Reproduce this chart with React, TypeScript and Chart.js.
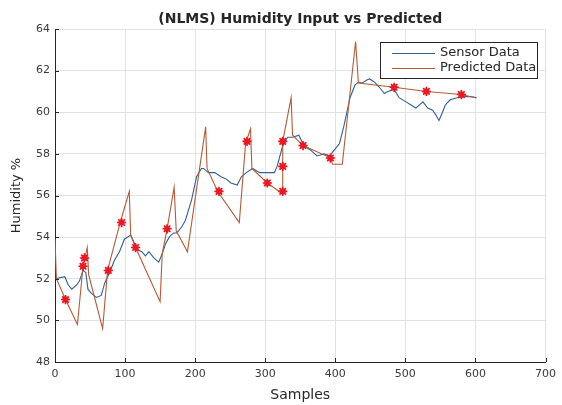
import React, { useEffect, useRef } from "react";
import { Chart, registerables } from "chart.js";

Chart.register(...registerables);

// ---- Data ----
const sensorSamples = [0, 14, 19, 24, 31, 35, 40, 44, 47, 52, 59, 66, 71, 78, 85, 92, 99, 108, 112, 117, 124, 129, 134, 141, 148, 153, 158, 163, 169, 174, 181, 186, 195, 202, 209, 212, 219, 228, 237, 244, 251, 260, 266, 273, 282, 292, 303, 313, 317, 325, 332, 339, 348, 355, 364, 374, 384, 392, 399, 406, 412, 421, 428, 433, 438, 445, 449, 456, 463, 470, 475, 484, 491, 501, 508, 515, 525, 532, 539, 543, 548, 553, 557, 564, 574, 586, 594, 602];
const sensorValues = [52.0, 52.1, 51.7, 51.5, 51.7, 51.9, 52.4, 52.3, 51.5, 51.3, 51.1, 51.2, 51.8, 52.3, 52.9, 53.3, 53.9, 54.1, 53.8, 53.4, 53.3, 53.1, 53.3, 53.0, 52.8, 53.2, 53.7, 54.0, 54.2, 54.2, 54.5, 54.8, 55.8, 56.9, 57.3, 57.3, 57.1, 57.1, 56.9, 56.8, 56.6, 56.5, 56.9, 57.1, 57.3, 57.1, 57.1, 57.1, 57.4, 58.4, 58.8, 58.8, 58.9, 58.4, 58.2, 57.9, 58.0, 57.9, 58.2, 58.5, 59.3, 60.7, 61.3, 61.45, 61.4, 61.55, 61.6, 61.45, 61.2, 60.9, 61.0, 61.1, 60.7, 60.5, 60.35, 60.2, 60.5, 60.2, 60.1, 59.9, 59.6, 60.0, 60.35, 60.6, 60.7, 60.75, 60.75, 60.7];

const predictedSamples = [0, 2, 15, 32, 40, 46, 48, 68, 75, 93, 106, 108, 115, 150, 153, 160, 170, 173, 189, 215, 217, 232, 263, 272, 279, 281, 303, 324, 325, 337, 339, 354, 394, 396, 410, 429, 433, 484, 530, 580, 600];
const predictedValues = [53.9, 52.0, 51.0, 49.8, 52.6, 53.5, 52.2, 49.6, 52.4, 54.7, 56.2, 54.1, 53.5, 50.9, 53.2, 54.4, 56.4, 54.3, 53.3, 59.3, 57.3, 56.2, 54.7, 58.5, 59.2, 57.3, 56.6, 56.1, 58.6, 60.7, 58.9, 58.4, 57.8, 57.5, 57.5, 63.4, 61.4, 61.2, 61.0, 60.85, 60.7];

const markerSamples = [15, 40, 42, 76, 95, 115, 160, 234, 274, 303, 325, 325, 325, 354, 393, 484, 530, 580];
const markerValues = [51.0, 52.6, 53.0, 52.4, 54.7, 53.5, 54.4, 56.2, 58.6, 56.6, 56.2, 57.4, 58.6, 58.4, 57.8, 61.2, 61.0, 60.85];

const seriesLabels = ["Sensor Data", "Predicted Data"];
const chartTitle = "(NLMS) Humidity Input vs Predicted";
const xAxisTitle = "Samples";
const yAxisTitle = "Humidity %";
const xMin = 0, xMax = 700, xStep = 100;
const yMin = 48, yMax = 64, yStep = 2;

const SENSOR_COLOR = "#2f6194";
const PREDICTED_COLOR = "#b65a36";
const AXIS_COLOR = "#262626";
const GRID_COLOR = "#e2e2e2";
const FONT = "'DejaVu Sans', sans-serif";

const toPoints = (xs: number[], ys: number[]) => xs.map((x, i) => ({ x, y: ys[i] }));

const matlabPlugin = {
  id: "matlabFrame",
  afterDraw(chart: any) {
    const { ctx, chartArea, scales } = chart;
    const xs = scales.x;
    const ys = scales.y;
    ctx.save();
    // inward tick marks
    ctx.strokeStyle = AXIS_COLOR;
    ctx.lineWidth = 1;
    ctx.beginPath();
    xs.ticks.forEach((t: any) => {
      const px = Math.round(xs.getPixelForValue(t.value)) + 0.5;
      ctx.moveTo(px, chartArea.bottom);
      ctx.lineTo(px, chartArea.bottom - 4);
    });
    ys.ticks.forEach((t: any) => {
      const py = Math.round(ys.getPixelForValue(t.value)) + 0.5;
      ctx.moveTo(chartArea.left, py);
      ctx.lineTo(chartArea.left + 4, py);
    });
    ctx.stroke();

    // legend box (top-right, inside the axes)
    const bx = 380.5, by = 42.5, bw = 157, bh = 36;
    ctx.fillStyle = "#ffffff";
    ctx.fillRect(bx, by, bw, bh);
    ctx.strokeStyle = AXIS_COLOR;
    ctx.lineWidth = 1;
    ctx.strokeRect(bx, by, bw, bh);
    const ds = chart.data.datasets;
    const rows = [
      { label: ds[0].label, color: ds[0].borderColor, y: 53 },
      { label: ds[1].label, color: ds[1].borderColor, y: 68 },
    ];
    ctx.font = `13px ${FONT}`;
    ctx.textBaseline = "middle";
    ctx.textAlign = "left";
    rows.forEach((r) => {
      ctx.strokeStyle = r.color;
      ctx.lineWidth = 1;
      ctx.beginPath();
      ctx.moveTo(392, r.y + 0.5);
      ctx.lineTo(435, r.y + 0.5);
      ctx.stroke();
      ctx.fillStyle = AXIS_COLOR;
      ctx.fillText(r.label, 440, r.y);
    });
    ctx.restore();
  },
};

export default function App() {
  const ref = useRef<HTMLCanvasElement | null>(null);

  useEffect(() => {
    document.body.style.margin = "0";
    const canvas = ref.current;
    if (!canvas) return;
    const chart = new Chart(canvas, {
      type: "line",
      data: {
        datasets: [
          {
            label: seriesLabels[0],
            data: toPoints(sensorSamples, sensorValues),
            borderColor: SENSOR_COLOR,
            backgroundColor: SENSOR_COLOR,
            borderWidth: 1.1,
            pointRadius: 0,
            tension: 0,
            order: 2,
          },
          {
            label: seriesLabels[1],
            data: toPoints(predictedSamples, predictedValues),
            borderColor: PREDICTED_COLOR,
            backgroundColor: PREDICTED_COLOR,
            borderWidth: 1.1,
            pointRadius: 0,
            tension: 0,
            order: 1,
          },
          {
            label: "markerFill",
            data: toPoints(markerSamples, markerValues),
            showLine: false,
            pointStyle: "circle",
            pointRadius: 3.2,
            backgroundColor: "rgba(235,25,35,0.8)",
            borderWidth: 0,
            order: 0,
          },
          {
            label: "markerStar",
            data: toPoints(markerSamples, markerValues),
            showLine: false,
            pointStyle: "star",
            pointRadius: 4.6,
            borderColor: "#e8121f",
            backgroundColor: "#e8121f",
            borderWidth: 1.6,
            order: 0,
          },
        ],
      },
      options: {
        responsive: false,
        animation: false,
        events: [],
        layout: { padding: { left: 0, right: 11, top: 0, bottom: 0 } },
        plugins: {
          legend: { display: false },
          tooltip: { enabled: false },
          title: {
            display: true,
            text: chartTitle,
            fullSize: false,
            color: AXIS_COLOR,
            font: { family: FONT, size: 14, weight: "bold" },
            padding: { top: 11, bottom: 1.2 },
          },
        },
        scales: {
          x: {
            type: "linear",
            min: xMin,
            max: xMax,
            ticks: {
              stepSize: xStep,
              color: "#3a3a3a",
              font: { family: FONT, size: 11 },
              padding: 6,
              maxRotation: 0,
            },
            grid: { color: GRID_COLOR, drawTicks: false, lineWidth: 1 },
            border: { display: true, color: AXIS_COLOR, width: 1 },
            title: {
              display: true,
              text: xAxisTitle,
              color: AXIS_COLOR,
              font: { family: FONT, size: 14 },
              padding: { top: 0, bottom: 1 },
            },
            afterFit: (s: any) => {
              s.height = 43;
            },
          },
          y: {
            type: "linear",
            min: yMin,
            max: yMax,
            ticks: {
              stepSize: yStep,
              color: "#3a3a3a",
              font: { family: FONT, size: 11 },
              padding: 5,
            },
            grid: { color: GRID_COLOR, drawTicks: false, lineWidth: 1 },
            border: { display: true, color: AXIS_COLOR, width: 1 },
            title: {
              display: true,
              text: yAxisTitle,
              color: AXIS_COLOR,
              font: { family: FONT, size: 13 },
              padding: { top: 9, bottom: 0 },
            },
            afterFit: (s: any) => {
              s.width = 55;
            },
          },
        },
      },
      plugins: [matlabPlugin],
    });
    return () => chart.destroy();
  }, []);

  return (
    <div style={{ width: 562, height: 405 }}>
      <canvas ref={ref} width={562} height={405} style={{ display: "block" }} />
    </div>
  );
}
